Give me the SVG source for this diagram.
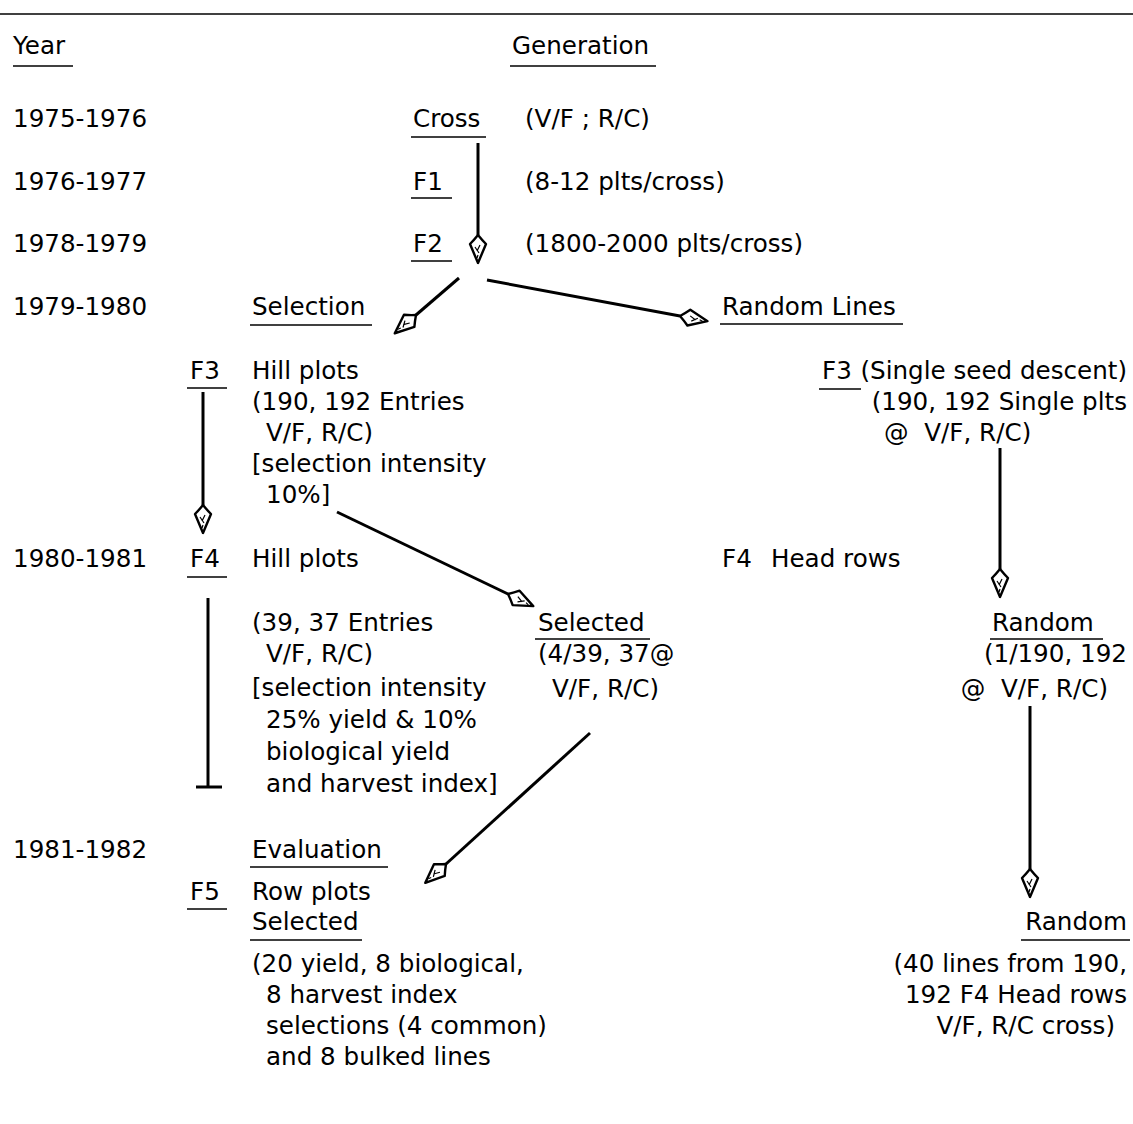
<svg xmlns="http://www.w3.org/2000/svg" width="1133" height="1124" viewBox="0 0 1133 1124">
<style>
text{font-family:"DejaVu Sans","Liberation Sans",sans-serif;font-size:24.6px;fill:#000;white-space:pre}
.e{text-anchor:end}
.u{stroke:#000;stroke-width:1.6}
.c{stroke:#000;stroke-width:3;fill:none}
</style>
<defs>
<marker id="ah" markerUnits="userSpaceOnUse" markerWidth="34" markerHeight="22" viewBox="-3 -11 34 22" refX="0" refY="0" orient="auto">
<path d="M0,0 Q5,-4 9,-8 L28,0 L9,8 Q5,4 0,0 Z" fill="#fff" stroke="#000" stroke-width="2.4" stroke-linejoin="round"/>
<path d="M10,-2 L16,1 M12,3 L18,-1 M20,0 L23,1" stroke="#000" stroke-width="1.2" fill="none"/>
</marker>
</defs>
<rect width="1133" height="1124" fill="#fff"/>
<line x1="0" y1="14" x2="1133" y2="14" class="u"/>

<g id="header">
<text x="13" y="54">Year</text><line class="u" x1="13" y1="66" x2="73" y2="66"/>
<text x="512" y="54">Generation</text><line class="u" x1="510" y1="66" x2="656" y2="66"/>
</g>
<g id="years">
<text x="13" y="127">1975-1976</text>
<text x="13" y="190">1976-1977</text>
<text x="13" y="252">1978-1979</text>
<text x="13" y="315">1979-1980</text>
<text x="13" y="567">1980-1981</text>
<text x="13" y="858">1981-1982</text>
</g>
<g id="cross">
<text x="413" y="127">Cross</text><line class="u" x1="411" y1="137" x2="486" y2="137"/>
<text x="525" y="127">(V/F ; R/C)</text>
</g>
<g id="f1">
<text x="413" y="190">F1</text><line class="u" x1="411" y1="198" x2="452" y2="198"/>
<text x="525" y="190">(8-12 plts/cross)</text>
</g>
<g id="f2">
<text x="413" y="252">F2</text><line class="u" x1="411" y1="261" x2="452" y2="261"/>
<text x="525" y="252">(1800-2000 plts/cross)</text>
</g>
<g id="selection">
<text x="252" y="315">Selection</text><line class="u" x1="250" y1="325" x2="372" y2="325"/>
</g>
<g id="random-lines">
<text x="722" y="315">Random Lines</text><line class="u" x1="720" y1="324" x2="903" y2="324"/>
</g>
<g id="f3-hill">
<text x="190" y="379">F3</text><line class="u" x1="187" y1="388" x2="227" y2="388"/>
<text x="252" y="379">Hill plots</text>
<text x="252" y="410">(190, 192 Entries</text>
<text x="266" y="441">V/F, R/C)</text>
<text x="252" y="472">[selection intensity</text>
<text x="266" y="503">10%]</text>
</g>
<g id="f3-ssd">
<text x="822" y="379">F3</text><line class="u" x1="819" y1="389" x2="861" y2="389"/>
<text class="e" x="1127" y="379">(Single seed descent)</text>
<text class="e" x="1127" y="410">(190, 192 Single plts</text>
<text x="884" y="441">@  V/F, R/C)</text>
</g>
<g id="f4-hill">
<text x="190" y="567">F4</text><line class="u" x1="187" y1="577" x2="227" y2="577"/>
<text x="252" y="567">Hill plots</text>
<text x="252" y="631">(39, 37 Entries</text>
<text x="266" y="662">V/F, R/C)</text>
<text x="252" y="696">[selection intensity</text>
<text x="266" y="728">25% yield &amp; 10%</text>
<text x="266" y="760">biological yield</text>
<text x="266" y="792">and harvest index]</text>
</g>
<g id="f4-head">
<text x="722" y="567">F4</text>
<text x="771" y="567">Head rows</text>
</g>
<g id="selected-f4">
<text x="538" y="631">Selected</text><line class="u" x1="535" y1="639" x2="650" y2="639"/>
<text x="538" y="662">(4/39, 37@</text>
<text x="552" y="697">V/F, R/C)</text>
</g>
<g id="random-f4">
<text x="992" y="631">Random</text><line class="u" x1="990" y1="639" x2="1103" y2="639"/>
<text class="e" x="1127" y="662">(1/190, 192</text>
<text class="e" x="1108" y="697">@  V/F, R/C)</text>
</g>
<g id="f5-eval">
<text x="252" y="858">Evaluation</text><line class="u" x1="250" y1="867" x2="388" y2="867"/>
<text x="190" y="900">F5</text><line class="u" x1="187" y1="909" x2="227" y2="909"/>
<text x="252" y="900">Row plots</text>
<text x="252" y="930">Selected</text><line class="u" x1="250" y1="940" x2="362" y2="940"/>
<text x="252" y="972">(20 yield, 8 biological,</text>
<text x="266" y="1003">8 harvest index</text>
<text x="266" y="1034">selections (4 common)</text>
<text x="266" y="1065">and 8 bulked lines</text>
</g>
<g id="f5-random">
<text class="e" x="1127" y="930">Random</text><line class="u" x1="1021" y1="940" x2="1130" y2="940"/>
<text class="e" x="1127" y="972">(40 lines from 190,</text>
<text class="e" x="1127" y="1003">192 F4 Head rows</text>
<text class="e" x="1115" y="1034">V/F, R/C cross)</text>
</g>
<g id="connectors">
<line class="c" x1="478" y1="143" x2="478" y2="235" marker-end="url(#ah)"/>
<line class="c" x1="459" y1="278" x2="416" y2="315" marker-end="url(#ah)"/>
<line class="c" x1="487" y1="280" x2="680" y2="316" marker-end="url(#ah)"/>
<line class="c" x1="203" y1="392" x2="203" y2="505" marker-end="url(#ah)"/>
<line class="c" x1="337" y1="512" x2="508" y2="594" marker-end="url(#ah)"/>
<line class="c" x1="208" y1="598" x2="208" y2="787"/>
<line class="c" x1="196" y1="787" x2="222" y2="787"/>
<line class="c" x1="590" y1="733" x2="446" y2="864" marker-end="url(#ah)"/>
<line class="c" x1="1000" y1="448" x2="1000" y2="569" marker-end="url(#ah)"/>
<line class="c" x1="1030" y1="706" x2="1030" y2="869" marker-end="url(#ah)"/>
</g>
</svg>
